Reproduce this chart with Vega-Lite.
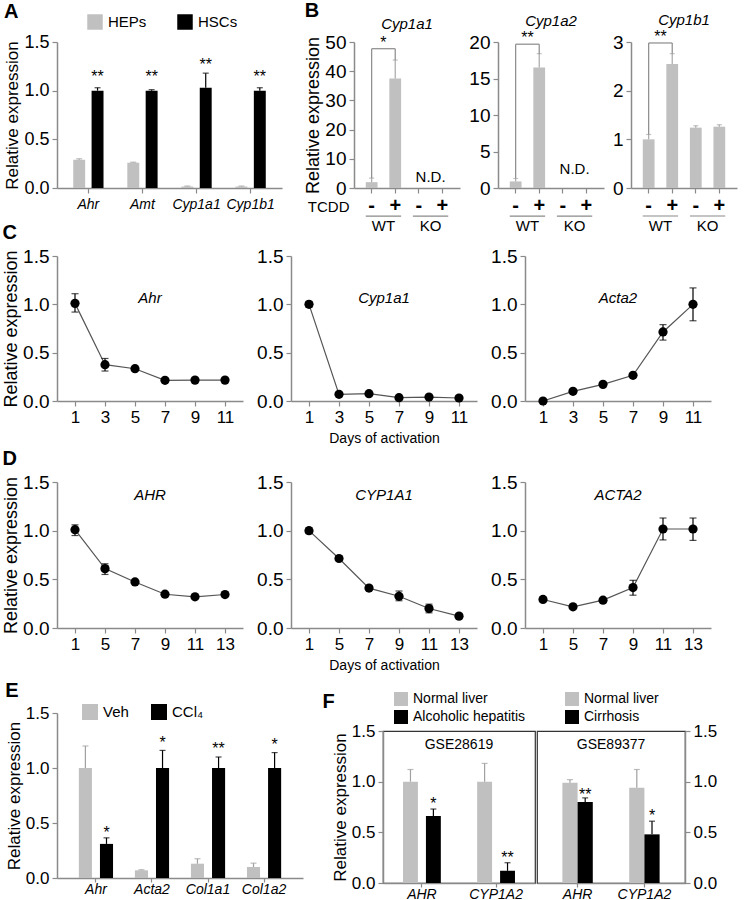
{
  "$schema": "https://vega.github.io/schema/vega-lite/v6.json",
  "padding": {"left": 2, "top": 0, "right": 2, "bottom": 0},
  "config": {
    "font": "Liberation Sans",
    "view": {"stroke": null},
    "axis": {"grid": false, "domainColor": "#8a8a8a", "tickColor": "#8a8a8a", "domainWidth": 1.5, "tickWidth": 1.2, "labelColor": "#000", "titleColor": "#000", "labelFont": "Liberation Sans", "titleFont": "Liberation Sans", "titleFontWeight": "normal", "tickSize": 5, "labelPadding": 3, "labelOverlap": false},
    "title": {"font": "Liberation Sans", "color": "#000"},
    "legend": {"labelFont": "Liberation Sans", "labelColor": "#000", "labelLimit": 300},
    "text": {"font": "Liberation Sans", "color": "#000"}
  },
  "datasets": {
    "a": [
      {"gene": "Ahr", "cell": "HEPs", "mean": 0.29, "hi": 0.3},
      {"gene": "Ahr", "cell": "HSCs", "mean": 1.0, "hi": 1.03, "sig": "**", "sigy": 1.18},
      {"gene": "Amt", "cell": "HEPs", "mean": 0.26, "hi": 0.265},
      {"gene": "Amt", "cell": "HSCs", "mean": 1.0, "hi": 1.01, "sig": "**", "sigy": 1.18},
      {"gene": "Cyp1a1", "cell": "HEPs", "mean": 0.015, "hi": 0.02},
      {"gene": "Cyp1a1", "cell": "HSCs", "mean": 1.03, "hi": 1.18, "sig": "**", "sigy": 1.3},
      {"gene": "Cyp1b1", "cell": "HEPs", "mean": 0.015, "hi": 0.02},
      {"gene": "Cyp1b1", "cell": "HSCs", "mean": 1.0, "hi": 1.03, "sig": "**", "sigy": 1.18}
    ],
    "b": [
      {"gene": "Cyp1a1", "cond": "WT-", "mean": 2.0, "hi": 3.4},
      {"gene": "Cyp1a1", "cond": "WT+", "mean": 37.5, "hi": 43.8},
      {"gene": "Cyp1a2", "cond": "WT-", "mean": 0.9, "hi": 1.3},
      {"gene": "Cyp1a2", "cond": "WT+", "mean": 16.5, "hi": 18.4},
      {"gene": "Cyp1b1", "cond": "WT-", "mean": 1.0, "hi": 1.1},
      {"gene": "Cyp1b1", "cond": "WT+", "mean": 2.55, "hi": 2.76},
      {"gene": "Cyp1b1", "cond": "KO-", "mean": 1.24, "hi": 1.28},
      {"gene": "Cyp1b1", "cond": "KO+", "mean": 1.26, "hi": 1.3}
    ],
    "bsig": [
      {"gene": "Cyp1a1", "left": "WT-", "right": "WT+", "lo_l": 3.4, "lo_r": 43.8, "top": 47.7, "label": "*"},
      {"gene": "Cyp1a2", "left": "WT-", "right": "WT+", "lo_l": 1.3, "lo_r": 18.4, "top": 19.7, "label": "**"},
      {"gene": "Cyp1b1", "left": "WT-", "right": "WT+", "lo_l": 1.1, "lo_r": 2.76, "top": 2.98, "label": "**"}
    ],
    "bnd": [
      {"gene": "Cyp1a1", "pos": "KO-", "y": 3.8, "t": "N.D."},
      {"gene": "Cyp1a2", "pos": "KO-", "y": 2.6, "t": "N.D."}
    ],
    "geno": [
      {"g": "WT", "from": "WT-", "to": "WT+"},
      {"g": "KO", "from": "KO-", "to": "KO+"}
    ],
    "c": [
      {"gene": "Ahr", "day": 1, "mean": 1.01, "lo": 0.92, "hi": 1.11},
      {"gene": "Ahr", "day": 3, "mean": 0.376, "lo": 0.31, "hi": 0.44},
      {"gene": "Ahr", "day": 5, "mean": 0.334, "lo": 0.32, "hi": 0.35},
      {"gene": "Ahr", "day": 7, "mean": 0.214, "lo": 0.2, "hi": 0.23},
      {"gene": "Ahr", "day": 9, "mean": 0.216, "lo": 0.2, "hi": 0.23},
      {"gene": "Ahr", "day": 11, "mean": 0.216, "lo": 0.21, "hi": 0.225},
      {"gene": "Cyp1a1", "day": 1, "mean": 1.0, "lo": 0.97, "hi": 1.03},
      {"gene": "Cyp1a1", "day": 3, "mean": 0.069, "lo": 0.069, "hi": 0.069},
      {"gene": "Cyp1a1", "day": 5, "mean": 0.076, "lo": 0.076, "hi": 0.076},
      {"gene": "Cyp1a1", "day": 7, "mean": 0.034, "lo": 0.034, "hi": 0.034},
      {"gene": "Cyp1a1", "day": 9, "mean": 0.041, "lo": 0.041, "hi": 0.041},
      {"gene": "Cyp1a1", "day": 11, "mean": 0.031, "lo": 0.031, "hi": 0.031},
      {"gene": "Acta2", "day": 1, "mean": 0.0, "lo": 0.0, "hi": 0.0},
      {"gene": "Acta2", "day": 3, "mean": 0.1, "lo": 0.1, "hi": 0.1},
      {"gene": "Acta2", "day": 5, "mean": 0.172, "lo": 0.172, "hi": 0.172},
      {"gene": "Acta2", "day": 7, "mean": 0.266, "lo": 0.266, "hi": 0.266},
      {"gene": "Acta2", "day": 9, "mean": 0.714, "lo": 0.63, "hi": 0.79},
      {"gene": "Acta2", "day": 11, "mean": 1.0, "lo": 0.83, "hi": 1.17}
    ],
    "d": [
      {"gene": "AHR", "day": 1, "mean": 1.01, "lo": 0.95, "hi": 1.06},
      {"gene": "AHR", "day": 5, "mean": 0.61, "lo": 0.55, "hi": 0.66},
      {"gene": "AHR", "day": 7, "mean": 0.473, "lo": 0.473, "hi": 0.473},
      {"gene": "AHR", "day": 9, "mean": 0.347, "lo": 0.347, "hi": 0.347},
      {"gene": "AHR", "day": 11, "mean": 0.32, "lo": 0.32, "hi": 0.32},
      {"gene": "AHR", "day": 13, "mean": 0.344, "lo": 0.344, "hi": 0.344},
      {"gene": "CYP1A1", "day": 1, "mean": 1.0, "lo": 0.97, "hi": 1.03},
      {"gene": "CYP1A1", "day": 5, "mean": 0.714, "lo": 0.7, "hi": 0.73},
      {"gene": "CYP1A1", "day": 7, "mean": 0.41, "lo": 0.39, "hi": 0.43},
      {"gene": "CYP1A1", "day": 9, "mean": 0.326, "lo": 0.28, "hi": 0.38},
      {"gene": "CYP1A1", "day": 11, "mean": 0.2, "lo": 0.156, "hi": 0.245},
      {"gene": "CYP1A1", "day": 13, "mean": 0.122, "lo": 0.122, "hi": 0.122},
      {"gene": "ACTA2", "day": 1, "mean": 0.293, "lo": 0.293, "hi": 0.293},
      {"gene": "ACTA2", "day": 5, "mean": 0.218, "lo": 0.218, "hi": 0.218},
      {"gene": "ACTA2", "day": 7, "mean": 0.286, "lo": 0.286, "hi": 0.286},
      {"gene": "ACTA2", "day": 9, "mean": 0.415, "lo": 0.337, "hi": 0.49},
      {"gene": "ACTA2", "day": 11, "mean": 1.017, "lo": 0.905, "hi": 1.13},
      {"gene": "ACTA2", "day": 13, "mean": 1.017, "lo": 0.9, "hi": 1.13}
    ],
    "e": [
      {"gene": "Ahr", "trt": "Veh", "mean": 1.0, "hi": 1.2},
      {"gene": "Ahr", "trt": "CCl₄", "mean": 0.31, "hi": 0.365, "sig": "*", "sigy": 0.45},
      {"gene": "Acta2", "trt": "Veh", "mean": 0.07, "hi": 0.075},
      {"gene": "Acta2", "trt": "CCl₄", "mean": 1.0, "hi": 1.16, "sig": "*", "sigy": 1.26},
      {"gene": "Col1a1", "trt": "Veh", "mean": 0.13, "hi": 0.175},
      {"gene": "Col1a1", "trt": "CCl₄", "mean": 1.0, "hi": 1.1, "sig": "**", "sigy": 1.21},
      {"gene": "Col1a2", "trt": "Veh", "mean": 0.1, "hi": 0.135},
      {"gene": "Col1a2", "trt": "CCl₄", "mean": 1.0, "hi": 1.14, "sig": "*", "sigy": 1.25}
    ],
    "f": [
      {"ds": "GSE28619", "gene": "AHR", "st": "Normal liver", "mean": 1.0, "hi": 1.12},
      {"ds": "GSE28619", "gene": "AHR", "st": "Alcoholic hepatitis", "mean": 0.66, "hi": 0.73, "sig": "*", "sigy": 0.82},
      {"ds": "GSE28619", "gene": "CYP1A2", "st": "Normal liver", "mean": 1.0, "hi": 1.18},
      {"ds": "GSE28619", "gene": "CYP1A2", "st": "Alcoholic hepatitis", "mean": 0.12, "hi": 0.2, "sig": "**", "sigy": 0.29},
      {"ds": "GSE89377", "gene": "AHR", "st": "Normal liver", "mean": 0.99, "hi": 1.02},
      {"ds": "GSE89377", "gene": "AHR", "st": "Cirrhosis", "mean": 0.8, "hi": 0.84, "sig": "**", "sigy": 0.91},
      {"ds": "GSE89377", "gene": "CYP1A2", "st": "Normal liver", "mean": 0.94, "hi": 1.12},
      {"ds": "GSE89377", "gene": "CYP1A2", "st": "Cirrhosis", "mean": 0.48, "hi": 0.61, "sig": "*", "sigy": 0.7}
    ]
  },
  "resolve": {"scale": {"color": "independent", "fill": "independent", "stroke": "independent", "xOffset": "independent"}, "legend": {"color": "independent"}},
  "spacing": -11,
  "vconcat": [
    {
      "resolve": {"scale": {"color": "independent", "fill": "independent", "stroke": "independent", "xOffset": "independent"}, "legend": {"color": "independent"}},
      "spacing": 22,
      "hconcat": [
        {
          "title": {"text": "A", "fontSize": 20, "fontWeight": "bold", "anchor": "start", "offset": -8},
          "hconcat": [
            {
              "width": 225, "height": 146,
              "data": {"name": "a"},
              "encoding": {
                "x": {"field": "gene", "type": "nominal", "title": null, "sort": ["Ahr", "Amt", "Cyp1a1", "Cyp1b1"], "scale": {"paddingInner": 0.44, "paddingOuter": 0.3}, "axis": {"labelAngle": 0, "labelFontStyle": "italic", "labelFontSize": 14, "labelPadding": 4}},
                "xOffset": {"field": "cell", "type": "nominal", "sort": ["HEPs", "HSCs"], "scale": {"paddingInner": 0.35}}
              },
              "layer": [
                {"mark": {"type": "bar"}, "encoding": {
                  "y": {"field": "mean", "type": "quantitative", "title": "Relative expression", "scale": {"domain": [0, 1.5], "nice": false}, "axis": {"values": [0, 0.5, 1, 1.5], "tickCount": 10, "format": ".1f", "labelFontSize": 18, "titleFontSize": 17, "titlePadding": 2}},
                  "color": {"field": "cell", "type": "nominal", "scale": {"domain": ["HEPs", "HSCs"], "range": ["#c0c0c0", "#000000"]}, "legend": {"title": null, "orient": "none", "legendX": 30, "legendY": -28, "direction": "horizontal", "symbolType": "square", "symbolSize": 240, "symbolStrokeWidth": 0, "labelFontSize": 15, "columnPadding": 30, "labelOffset": 5}}
                }},
                {"mark": {"type": "rule", "strokeWidth": 1.2}, "encoding": {
                  "y": {"field": "mean", "type": "quantitative", "title": "Relative expression"}, "y2": {"field": "hi"},
                  "stroke": {"field": "cell", "type": "nominal", "scale": {"domain": ["HEPs", "HSCs"], "range": ["#a0a0a0", "#000000"]}, "legend": null}
                }},
                {"mark": {"type": "tick", "size": 6, "thickness": 1.2}, "encoding": {
                  "y": {"field": "hi", "type": "quantitative", "title": "Relative expression"},
                  "fill": {"field": "cell", "type": "nominal", "scale": {"domain": ["HEPs", "HSCs"], "range": ["#a0a0a0", "#000000"]}, "legend": null}
                }},
                {"transform": [{"filter": "isValid(datum.sig)"}], "mark": {"type": "text", "fontSize": 16, "baseline": "middle", "dy": 4}, "encoding": {
                  "y": {"field": "sigy", "type": "quantitative", "title": "Relative expression"}, "text": {"field": "sig"}
                }}
              ]
            }
          ]
        },
        {
          "title": {"text": "B", "fontSize": 20, "fontWeight": "bold", "anchor": "start", "offset": -8},
          "spacing": 8,
          "hconcat": [
            {
              "width": 106, "height": 146,
              "title": {"text": "Cyp1a1", "fontStyle": "italic", "fontWeight": "normal", "fontSize": 15, "anchor": "middle", "offset": 1},
              "layer": [
                {"data": {"name": "b"}, "transform": [{"filter": "datum.gene=='Cyp1a1'"}], "mark": {"type": "bar", "color": "#c0c0c0"}, "encoding": {
                  "x": {"field": "cond", "type": "nominal", "title": "TCDD", "scale": {"domain": ["WT-", "WT+", "KO-", "KO+"], "paddingInner": 0.5, "paddingOuter": 0.5}, "axis": {"labelExpr": "indexof(datum.value,'+')>=0?'+':'-'", "labelAngle": 0, "labelFontSize": 20, "labelFontWeight": "bold", "labelPadding": 2, "titleX": -5, "titleY": 23, "titleAlign": "right", "titleBaseline": "alphabetic", "titleFontSize": 15, "titleAngle": 0}},
                  "y": {"field": "mean", "type": "quantitative", "title": "Relative expression", "scale": {"domain": [0, 50], "nice": false}, "axis": {"values": [0, 10, 20, 30, 40, 50], "tickCount": 10, "format": "d", "labelFontSize": 19, "titleFontSize": 18, "titlePadding": 2}}
                }},
                {"data": {"name": "b"}, "transform": [{"filter": "datum.gene=='Cyp1a1'"}], "mark": {"type": "rule", "color": "#a8a8a8", "strokeWidth": 1.2}, "encoding": {
                  "x": {"field": "cond", "type": "nominal", "title": "TCDD"}, "y": {"field": "mean", "type": "quantitative", "title": "Relative expression"}, "y2": {"field": "hi"}}},
                {"data": {"name": "b"}, "transform": [{"filter": "datum.gene=='Cyp1a1'"}], "mark": {"type": "tick", "color": "#a8a8a8", "size": 5, "thickness": 1.2}, "encoding": {
                  "x": {"field": "cond", "type": "nominal", "title": "TCDD"}, "y": {"field": "hi", "type": "quantitative", "title": "Relative expression"}}},
                {"data": {"name": "bsig"}, "transform": [{"filter": "datum.gene=='Cyp1a1'"}], "mark": {"type": "rule", "color": "#8a8a8a", "strokeWidth": 1.2}, "encoding": {
                  "x": {"field": "left", "type": "nominal", "title": "TCDD"}, "y": {"field": "lo_l", "type": "quantitative", "title": "Relative expression"}, "y2": {"field": "top"}}},
                {"data": {"name": "bsig"}, "transform": [{"filter": "datum.gene=='Cyp1a1'"}], "mark": {"type": "rule", "color": "#8a8a8a", "strokeWidth": 1.2}, "encoding": {
                  "x": {"field": "right", "type": "nominal", "title": "TCDD"}, "y": {"field": "lo_r", "type": "quantitative", "title": "Relative expression"}, "y2": {"field": "top"}}},
                {"data": {"name": "bsig"}, "transform": [{"filter": "datum.gene=='Cyp1a1'"}], "mark": {"type": "rule", "color": "#8a8a8a", "strokeWidth": 1.2}, "encoding": {
                  "x": {"field": "left", "type": "nominal", "title": "TCDD", "bandPosition": 0.5}, "x2": {"field": "right", "bandPosition": 0.5}, "y": {"field": "top", "type": "quantitative", "title": "Relative expression"}}},
                {"data": {"name": "bsig"}, "transform": [{"filter": "datum.gene=='Cyp1a1'"}], "mark": {"type": "text", "fontSize": 16, "baseline": "middle", "dy": -6}, "encoding": {
                  "x": {"field": "left", "type": "nominal", "title": "TCDD", "bandPosition": 1.5}, "y": {"field": "top", "type": "quantitative", "title": "Relative expression"}, "text": {"field": "label"}}},
                {"data": {"name": "bnd"}, "transform": [{"filter": "datum.gene=='Cyp1a1'"}], "mark": {"type": "text", "fontSize": 15, "baseline": "middle"}, "encoding": {
                  "x": {"field": "pos", "type": "nominal", "title": "TCDD", "bandPosition": 1.5}, "y": {"field": "y", "type": "quantitative", "title": "Relative expression"}, "text": {"field": "t"}}},
                {"data": {"name": "geno"}, "mark": {"type": "rule", "color": "#8a8a8a", "strokeWidth": 1.2}, "encoding": {
                  "x": {"field": "from", "type": "nominal", "title": "TCDD", "bandPosition": 0}, "x2": {"field": "to", "bandPosition": 1}, "y": {"datum": -9.6, "title": "Relative expression"}}},
                {"data": {"name": "geno"}, "mark": {"type": "text", "fontSize": 15, "baseline": "middle"}, "encoding": {
                  "x": {"field": "from", "type": "nominal", "title": "TCDD", "bandPosition": 1.5}, "y": {"datum": -13, "title": "Relative expression"}, "text": {"field": "g"}}}
              ]
            },
            {
              "width": 106, "height": 146,
              "title": {"text": "Cyp1a2", "fontStyle": "italic", "fontWeight": "normal", "fontSize": 15, "anchor": "middle", "offset": 1},
              "layer": [
                {"data": {"name": "b"}, "transform": [{"filter": "datum.gene=='Cyp1a2'"}], "mark": {"type": "bar", "color": "#c0c0c0"}, "encoding": {
                  "x": {"field": "cond", "type": "nominal", "title": null, "scale": {"domain": ["WT-", "WT+", "KO-", "KO+"], "paddingInner": 0.5, "paddingOuter": 0.5}, "axis": {"labelExpr": "indexof(datum.value,'+')>=0?'+':'-'", "labelAngle": 0, "labelFontSize": 20, "labelFontWeight": "bold", "labelPadding": 2}},
                  "y": {"field": "mean", "type": "quantitative", "title": null, "scale": {"domain": [0, 20], "nice": false}, "axis": {"values": [0, 5, 10, 15, 20], "tickCount": 10, "format": "d", "labelFontSize": 19}}
                }},
                {"data": {"name": "b"}, "transform": [{"filter": "datum.gene=='Cyp1a2'"}], "mark": {"type": "rule", "color": "#a8a8a8", "strokeWidth": 1.2}, "encoding": {
                  "x": {"field": "cond", "type": "nominal", "title": null}, "y": {"field": "mean", "type": "quantitative", "title": null}, "y2": {"field": "hi"}}},
                {"data": {"name": "b"}, "transform": [{"filter": "datum.gene=='Cyp1a2'"}], "mark": {"type": "tick", "color": "#a8a8a8", "size": 5, "thickness": 1.2}, "encoding": {
                  "x": {"field": "cond", "type": "nominal", "title": null}, "y": {"field": "hi", "type": "quantitative", "title": null}}},
                {"data": {"name": "bsig"}, "transform": [{"filter": "datum.gene=='Cyp1a2'"}], "mark": {"type": "rule", "color": "#8a8a8a", "strokeWidth": 1.2}, "encoding": {
                  "x": {"field": "left", "type": "nominal", "title": null}, "y": {"field": "lo_l", "type": "quantitative", "title": null}, "y2": {"field": "top"}}},
                {"data": {"name": "bsig"}, "transform": [{"filter": "datum.gene=='Cyp1a2'"}], "mark": {"type": "rule", "color": "#8a8a8a", "strokeWidth": 1.2}, "encoding": {
                  "x": {"field": "right", "type": "nominal", "title": null}, "y": {"field": "lo_r", "type": "quantitative", "title": null}, "y2": {"field": "top"}}},
                {"data": {"name": "bsig"}, "transform": [{"filter": "datum.gene=='Cyp1a2'"}], "mark": {"type": "rule", "color": "#8a8a8a", "strokeWidth": 1.2}, "encoding": {
                  "x": {"field": "left", "type": "nominal", "title": null, "bandPosition": 0.5}, "x2": {"field": "right", "bandPosition": 0.5}, "y": {"field": "top", "type": "quantitative", "title": null}}},
                {"data": {"name": "bsig"}, "transform": [{"filter": "datum.gene=='Cyp1a2'"}], "mark": {"type": "text", "fontSize": 16, "baseline": "middle", "dy": -6}, "encoding": {
                  "x": {"field": "left", "type": "nominal", "title": null, "bandPosition": 1.5}, "y": {"field": "top", "type": "quantitative", "title": null}, "text": {"field": "label"}}},
                {"data": {"name": "bnd"}, "transform": [{"filter": "datum.gene=='Cyp1a2'"}], "mark": {"type": "text", "fontSize": 15, "baseline": "middle"}, "encoding": {
                  "x": {"field": "pos", "type": "nominal", "title": null, "bandPosition": 1.5}, "y": {"field": "y", "type": "quantitative", "title": null}, "text": {"field": "t"}}},
                {"data": {"name": "geno"}, "mark": {"type": "rule", "color": "#8a8a8a", "strokeWidth": 1.2}, "encoding": {
                  "x": {"field": "from", "type": "nominal", "title": null, "bandPosition": 0}, "x2": {"field": "to", "bandPosition": 1}, "y": {"datum": -3.84, "title": null}}},
                {"data": {"name": "geno"}, "mark": {"type": "text", "fontSize": 15, "baseline": "middle"}, "encoding": {
                  "x": {"field": "from", "type": "nominal", "title": null, "bandPosition": 1.5}, "y": {"datum": -5.2, "title": null}, "text": {"field": "g"}}}
              ]
            },
            {
              "width": 106, "height": 146,
              "title": {"text": "Cyp1b1", "fontStyle": "italic", "fontWeight": "normal", "fontSize": 15, "anchor": "middle", "offset": 1},
              "layer": [
                {"data": {"name": "b"}, "transform": [{"filter": "datum.gene=='Cyp1b1'"}], "mark": {"type": "bar", "color": "#c0c0c0"}, "encoding": {
                  "x": {"field": "cond", "type": "nominal", "title": null, "scale": {"domain": ["WT-", "WT+", "KO-", "KO+"], "paddingInner": 0.5, "paddingOuter": 0.5}, "axis": {"labelExpr": "indexof(datum.value,'+')>=0?'+':'-'", "labelAngle": 0, "labelFontSize": 20, "labelFontWeight": "bold", "labelPadding": 2}},
                  "y": {"field": "mean", "type": "quantitative", "title": null, "scale": {"domain": [0, 3], "nice": false}, "axis": {"values": [0, 1, 2, 3], "tickCount": 10, "format": "d", "labelFontSize": 19}}
                }},
                {"data": {"name": "b"}, "transform": [{"filter": "datum.gene=='Cyp1b1'"}], "mark": {"type": "rule", "color": "#a8a8a8", "strokeWidth": 1.2}, "encoding": {
                  "x": {"field": "cond", "type": "nominal", "title": null}, "y": {"field": "mean", "type": "quantitative", "title": null}, "y2": {"field": "hi"}}},
                {"data": {"name": "b"}, "transform": [{"filter": "datum.gene=='Cyp1b1'"}], "mark": {"type": "tick", "color": "#a8a8a8", "size": 5, "thickness": 1.2}, "encoding": {
                  "x": {"field": "cond", "type": "nominal", "title": null}, "y": {"field": "hi", "type": "quantitative", "title": null}}},
                {"data": {"name": "bsig"}, "transform": [{"filter": "datum.gene=='Cyp1b1'"}], "mark": {"type": "rule", "color": "#8a8a8a", "strokeWidth": 1.2}, "encoding": {
                  "x": {"field": "left", "type": "nominal", "title": null}, "y": {"field": "lo_l", "type": "quantitative", "title": null}, "y2": {"field": "top"}}},
                {"data": {"name": "bsig"}, "transform": [{"filter": "datum.gene=='Cyp1b1'"}], "mark": {"type": "rule", "color": "#8a8a8a", "strokeWidth": 1.2}, "encoding": {
                  "x": {"field": "right", "type": "nominal", "title": null}, "y": {"field": "lo_r", "type": "quantitative", "title": null}, "y2": {"field": "top"}}},
                {"data": {"name": "bsig"}, "transform": [{"filter": "datum.gene=='Cyp1b1'"}], "mark": {"type": "rule", "color": "#8a8a8a", "strokeWidth": 1.2}, "encoding": {
                  "x": {"field": "left", "type": "nominal", "title": null, "bandPosition": 0.5}, "x2": {"field": "right", "bandPosition": 0.5}, "y": {"field": "top", "type": "quantitative", "title": null}}},
                {"data": {"name": "bsig"}, "transform": [{"filter": "datum.gene=='Cyp1b1'"}], "mark": {"type": "text", "fontSize": 16, "baseline": "middle", "dy": -6}, "encoding": {
                  "x": {"field": "left", "type": "nominal", "title": null, "bandPosition": 1.5}, "y": {"field": "top", "type": "quantitative", "title": null}, "text": {"field": "label"}}},
                {"data": {"name": "geno"}, "mark": {"type": "rule", "color": "#8a8a8a", "strokeWidth": 1.2}, "encoding": {
                  "x": {"field": "from", "type": "nominal", "title": null, "bandPosition": 0}, "x2": {"field": "to", "bandPosition": 1}, "y": {"datum": -0.575, "title": null}}},
                {"data": {"name": "geno"}, "mark": {"type": "text", "fontSize": 15, "baseline": "middle"}, "encoding": {
                  "x": {"field": "from", "type": "nominal", "title": null, "bandPosition": 1.5}, "y": {"datum": -0.78, "title": null}, "text": {"field": "g"}}}
              ]
            }
          ]
        }
      ]
    },
    {
      "resolve": {"scale": {"color": "independent", "fill": "independent", "stroke": "independent", "xOffset": "independent"}, "legend": {"color": "independent"}},
      "spacing": 9,
      "vconcat": [
        {
          "spacing": 4,
          "vconcat": [
            {
              "title": {"text": "C", "fontSize": 20, "fontWeight": "bold", "anchor": "start", "offset": 4},
              "spacing": 13,
              "hconcat": [
                {
                  "width": 186, "height": 145,
                  "title": {"text": "Ahr", "fontStyle": "italic", "fontWeight": "normal", "fontSize": 15, "anchor": "middle", "offset": -59},
                  "data": {"name": "c"}, "transform": [{"filter": "datum.gene=='Ahr'"}],
                  "encoding": {"x": {"field": "day", "type": "ordinal", "title": null, "scale": {"type": "point", "padding": 0.6}, "axis": {"labelAngle": 0, "labelFontSize": 17}}},
                  "layer": [
                    {"mark": {"type": "line", "color": "#555", "strokeWidth": 1.2}, "encoding": {"y": {"field": "mean", "type": "quantitative", "title": "Relative expression", "scale": {"domain": [0, 1.5], "nice": false}, "axis": {"values": [0, 0.5, 1, 1.5], "tickCount": 10, "format": ".1f", "labelFontSize": 19, "titleFontSize": 18, "titlePadding": 2}}}},
                    {"mark": {"type": "rule", "color": "#000", "strokeWidth": 1.2}, "encoding": {"y": {"field": "lo", "type": "quantitative", "title": "Relative expression"}, "y2": {"field": "hi"}}},
                    {"mark": {"type": "tick", "color": "#000", "size": 7, "thickness": 1.2}, "encoding": {"y": {"field": "hi", "type": "quantitative", "title": "Relative expression"}}},
                    {"mark": {"type": "tick", "color": "#000", "size": 7, "thickness": 1.2}, "encoding": {"y": {"field": "lo", "type": "quantitative", "title": "Relative expression"}}},
                    {"mark": {"type": "point", "filled": true, "color": "#000", "size": 85, "opacity": 1}, "encoding": {"y": {"field": "mean", "type": "quantitative", "title": "Relative expression"}}}
                  ]
                },
                {
                  "width": 186, "height": 145,
                  "title": {"text": "Cyp1a1", "fontStyle": "italic", "fontWeight": "normal", "fontSize": 15, "anchor": "middle", "offset": -59},
                  "data": {"name": "c"}, "transform": [{"filter": "datum.gene=='Cyp1a1'"}],
                  "encoding": {"x": {"field": "day", "type": "ordinal", "title": "Days of activation", "scale": {"type": "point", "padding": 0.6}, "axis": {"labelAngle": 0, "labelFontSize": 17, "titleFontSize": 14, "titlePadding": 6}}},
                  "layer": [
                    {"mark": {"type": "line", "color": "#555", "strokeWidth": 1.2}, "encoding": {"y": {"field": "mean", "type": "quantitative", "title": null, "scale": {"domain": [0, 1.5], "nice": false}, "axis": {"values": [0, 0.5, 1, 1.5], "tickCount": 10, "format": ".1f", "labelFontSize": 19}}}},
                    {"mark": {"type": "rule", "color": "#000", "strokeWidth": 1.2}, "encoding": {"y": {"field": "lo", "type": "quantitative", "title": null}, "y2": {"field": "hi"}}},
                    {"mark": {"type": "tick", "color": "#000", "size": 7, "thickness": 1.2}, "encoding": {"y": {"field": "hi", "type": "quantitative", "title": null}}},
                    {"mark": {"type": "tick", "color": "#000", "size": 7, "thickness": 1.2}, "encoding": {"y": {"field": "lo", "type": "quantitative", "title": null}}},
                    {"mark": {"type": "point", "filled": true, "color": "#000", "size": 85, "opacity": 1}, "encoding": {"y": {"field": "mean", "type": "quantitative", "title": null}}}
                  ]
                },
                {
                  "width": 186, "height": 145,
                  "title": {"text": "Acta2", "fontStyle": "italic", "fontWeight": "normal", "fontSize": 15, "anchor": "middle", "offset": -59},
                  "data": {"name": "c"}, "transform": [{"filter": "datum.gene=='Acta2'"}],
                  "encoding": {"x": {"field": "day", "type": "ordinal", "title": null, "scale": {"type": "point", "padding": 0.6}, "axis": {"labelAngle": 0, "labelFontSize": 17}}},
                  "layer": [
                    {"mark": {"type": "line", "color": "#555", "strokeWidth": 1.2}, "encoding": {"y": {"field": "mean", "type": "quantitative", "title": null, "scale": {"domain": [0, 1.5], "nice": false}, "axis": {"values": [0, 0.5, 1, 1.5], "tickCount": 10, "format": ".1f", "labelFontSize": 19}}}},
                    {"mark": {"type": "rule", "color": "#000", "strokeWidth": 1.2}, "encoding": {"y": {"field": "lo", "type": "quantitative", "title": null}, "y2": {"field": "hi"}}},
                    {"mark": {"type": "tick", "color": "#000", "size": 7, "thickness": 1.2}, "encoding": {"y": {"field": "hi", "type": "quantitative", "title": null}}},
                    {"mark": {"type": "tick", "color": "#000", "size": 7, "thickness": 1.2}, "encoding": {"y": {"field": "lo", "type": "quantitative", "title": null}}},
                    {"mark": {"type": "point", "filled": true, "color": "#000", "size": 85, "opacity": 1}, "encoding": {"y": {"field": "mean", "type": "quantitative", "title": null}}}
                  ]
                }
              ]
            },
            {
              "title": {"text": "D", "fontSize": 20, "fontWeight": "bold", "anchor": "start", "offset": 4},
              "spacing": 13,
              "hconcat": [
                {
                  "width": 186, "height": 146,
                  "title": {"text": "AHR", "fontStyle": "italic", "fontWeight": "normal", "fontSize": 15, "anchor": "middle", "offset": -30},
                  "data": {"name": "d"}, "transform": [{"filter": "datum.gene=='AHR'"}],
                  "encoding": {"x": {"field": "day", "type": "ordinal", "title": null, "scale": {"type": "point", "padding": 0.6}, "axis": {"labelAngle": 0, "labelFontSize": 17}}},
                  "layer": [
                    {"mark": {"type": "line", "color": "#555", "strokeWidth": 1.2}, "encoding": {"y": {"field": "mean", "type": "quantitative", "title": "Relative expression", "scale": {"domain": [0, 1.5], "nice": false}, "axis": {"values": [0, 0.5, 1, 1.5], "tickCount": 10, "format": ".1f", "labelFontSize": 19, "titleFontSize": 18, "titlePadding": 2}}}},
                    {"mark": {"type": "rule", "color": "#000", "strokeWidth": 1.2}, "encoding": {"y": {"field": "lo", "type": "quantitative", "title": "Relative expression"}, "y2": {"field": "hi"}}},
                    {"mark": {"type": "tick", "color": "#000", "size": 7, "thickness": 1.2}, "encoding": {"y": {"field": "hi", "type": "quantitative", "title": "Relative expression"}}},
                    {"mark": {"type": "tick", "color": "#000", "size": 7, "thickness": 1.2}, "encoding": {"y": {"field": "lo", "type": "quantitative", "title": "Relative expression"}}},
                    {"mark": {"type": "point", "filled": true, "color": "#000", "size": 85, "opacity": 1}, "encoding": {"y": {"field": "mean", "type": "quantitative", "title": "Relative expression"}}}
                  ]
                },
                {
                  "width": 186, "height": 146,
                  "title": {"text": "CYP1A1", "fontStyle": "italic", "fontWeight": "normal", "fontSize": 15, "anchor": "middle", "offset": -30},
                  "data": {"name": "d"}, "transform": [{"filter": "datum.gene=='CYP1A1'"}],
                  "encoding": {"x": {"field": "day", "type": "ordinal", "title": "Days of activation", "scale": {"type": "point", "padding": 0.6}, "axis": {"labelAngle": 0, "labelFontSize": 17, "titleFontSize": 14, "titlePadding": 6}}},
                  "layer": [
                    {"mark": {"type": "line", "color": "#555", "strokeWidth": 1.2}, "encoding": {"y": {"field": "mean", "type": "quantitative", "title": null, "scale": {"domain": [0, 1.5], "nice": false}, "axis": {"values": [0, 0.5, 1, 1.5], "tickCount": 10, "format": ".1f", "labelFontSize": 19}}}},
                    {"mark": {"type": "rule", "color": "#000", "strokeWidth": 1.2}, "encoding": {"y": {"field": "lo", "type": "quantitative", "title": null}, "y2": {"field": "hi"}}},
                    {"mark": {"type": "tick", "color": "#000", "size": 7, "thickness": 1.2}, "encoding": {"y": {"field": "hi", "type": "quantitative", "title": null}}},
                    {"mark": {"type": "tick", "color": "#000", "size": 7, "thickness": 1.2}, "encoding": {"y": {"field": "lo", "type": "quantitative", "title": null}}},
                    {"mark": {"type": "point", "filled": true, "color": "#000", "size": 85, "opacity": 1}, "encoding": {"y": {"field": "mean", "type": "quantitative", "title": null}}}
                  ]
                },
                {
                  "width": 186, "height": 146,
                  "title": {"text": "ACTA2", "fontStyle": "italic", "fontWeight": "normal", "fontSize": 15, "anchor": "middle", "offset": -30},
                  "data": {"name": "d"}, "transform": [{"filter": "datum.gene=='ACTA2'"}],
                  "encoding": {"x": {"field": "day", "type": "ordinal", "title": null, "scale": {"type": "point", "padding": 0.6}, "axis": {"labelAngle": 0, "labelFontSize": 17}}},
                  "layer": [
                    {"mark": {"type": "line", "color": "#555", "strokeWidth": 1.2}, "encoding": {"y": {"field": "mean", "type": "quantitative", "title": null, "scale": {"domain": [0, 1.5], "nice": false}, "axis": {"values": [0, 0.5, 1, 1.5], "tickCount": 10, "format": ".1f", "labelFontSize": 19}}}},
                    {"mark": {"type": "rule", "color": "#000", "strokeWidth": 1.2}, "encoding": {"y": {"field": "lo", "type": "quantitative", "title": null}, "y2": {"field": "hi"}}},
                    {"mark": {"type": "tick", "color": "#000", "size": 7, "thickness": 1.2}, "encoding": {"y": {"field": "hi", "type": "quantitative", "title": null}}},
                    {"mark": {"type": "tick", "color": "#000", "size": 7, "thickness": 1.2}, "encoding": {"y": {"field": "lo", "type": "quantitative", "title": null}}},
                    {"mark": {"type": "point", "filled": true, "color": "#000", "size": 85, "opacity": 1}, "encoding": {"y": {"field": "mean", "type": "quantitative", "title": null}}}
                  ]
                }
              ]
            }
          ]
        },
        {
          "resolve": {"scale": {"color": "independent", "fill": "independent", "stroke": "independent", "xOffset": "independent"}, "legend": {"color": "independent"}},
          "spacing": 19,
          "hconcat": [
            {
              "hconcat": [
                {
                  "width": 246, "height": 165,
                  "title": {"text": "E", "fontSize": 20, "fontWeight": "bold", "anchor": "start", "frame": "bounds", "offset": 3},
                  "data": {"name": "e"},
                  "encoding": {
                    "x": {"field": "gene", "type": "nominal", "title": null, "sort": ["Ahr", "Acta2", "Col1a1", "Col1a2"], "scale": {"paddingInner": 0.39, "paddingOuter": 0.39}, "axis": {"labelAngle": 0, "labelFontStyle": "italic", "labelFontSize": 14, "labelPadding": 0, "tickSize": 4}},
                    "xOffset": {"field": "trt", "type": "nominal", "sort": ["Veh", "CCl₄"], "scale": {"paddingInner": 0.38}}
                  },
                  "layer": [
                    {"mark": {"type": "bar"}, "encoding": {
                      "y": {"field": "mean", "type": "quantitative", "title": "Relative expression", "scale": {"domain": [0, 1.5], "nice": false}, "axis": {"values": [0, 0.5, 1, 1.5], "tickCount": 10, "format": ".1f", "labelFontSize": 17, "titleFontSize": 17, "titlePadding": 2}},
                      "color": {"field": "trt", "type": "nominal", "scale": {"domain": ["Veh", "CCl₄"], "range": ["#c0c0c0", "#000000"]}, "legend": {"title": null, "orient": "none", "legendX": 25, "legendY": -9, "direction": "horizontal", "symbolType": "square", "symbolSize": 256, "symbolStrokeWidth": 0, "labelFontSize": 15, "columnPadding": 22, "labelOffset": 5}}
                    }},
                    {"mark": {"type": "rule", "strokeWidth": 1.2}, "encoding": {
                      "y": {"field": "mean", "type": "quantitative", "title": "Relative expression"}, "y2": {"field": "hi"},
                      "stroke": {"field": "trt", "type": "nominal", "scale": {"domain": ["Veh", "CCl₄"], "range": ["#a0a0a0", "#000000"]}, "legend": null}
                    }},
                    {"mark": {"type": "tick", "size": 6, "thickness": 1.2}, "encoding": {
                      "y": {"field": "hi", "type": "quantitative", "title": "Relative expression"},
                      "fill": {"field": "trt", "type": "nominal", "scale": {"domain": ["Veh", "CCl₄"], "range": ["#a0a0a0", "#000000"]}, "legend": null}
                    }},
                    {"transform": [{"filter": "isValid(datum.sig)"}], "mark": {"type": "text", "fontSize": 16, "baseline": "middle", "dy": 4}, "encoding": {
                      "y": {"field": "sigy", "type": "quantitative", "title": "Relative expression"}, "text": {"field": "sig"}
                    }}
                  ]
                }
              ]
            },
            {
              "resolve": {"scale": {"color": "independent", "fill": "independent", "stroke": "independent", "xOffset": "independent"}, "legend": {"color": "independent"}},
              "spacing": -23,
              "vconcat": [
                {
                  "width": 100, "height": 1,
                  "title": {"text": "F", "fontSize": 20, "fontWeight": "bold", "anchor": "start", "offset": 1, "dx": -60},
                  "data": {"name": "f"},
                  "mark": {"type": "rule", "opacity": 0},
                  "encoding": {}
                },
                {
                  "resolve": {"scale": {"color": "independent", "fill": "independent", "stroke": "independent", "xOffset": "independent"}, "legend": {"color": "independent"}},
                  "spacing": 0,
                  "hconcat": [
                    {
                      "width": 152, "height": 152,
                      "view": {"stroke": "#333", "strokeWidth": 1.2},
                      "data": {"name": "f"}, "transform": [{"filter": "datum.ds=='GSE28619'"}],
                      "encoding": {
                        "x": {"field": "gene", "type": "nominal", "title": null, "sort": ["AHR", "CYP1A2"], "scale": {"paddingInner": 0.49, "paddingOuter": 0.27}, "axis": {"labelAngle": 0, "labelFontStyle": "italic", "labelFontSize": 14, "labelPadding": 0, "tickSize": 4}}
                      },
                      "layer": [
                        {"mark": {"type": "bar"}, "encoding": {
                          "xOffset": {"field": "st", "type": "nominal", "sort": ["Normal liver", "Alcoholic hepatitis"], "scale": {"paddingInner": 0.35}},
                          "y": {"field": "mean", "type": "quantitative", "title": "Relative expression", "scale": {"domain": [0, 1.5], "nice": false}, "axis": {"values": [0, 0.5, 1, 1.5], "tickCount": 10, "format": ".1f", "labelFontSize": 17, "titleFontSize": 17, "titlePadding": 2}},
                          "color": {"field": "st", "type": "nominal", "scale": {"domain": ["Normal liver", "Alcoholic hepatitis"], "range": ["#c0c0c0", "#000000"]}, "legend": {"title": null, "orient": "none", "legendX": 11, "legendY": -39, "direction": "vertical", "symbolType": "square", "symbolSize": 196, "symbolStrokeWidth": 0, "labelFontSize": 14, "rowPadding": 4, "labelOffset": 5}}
                        }},
                        {"mark": {"type": "rule", "strokeWidth": 1.2}, "encoding": {
                          "xOffset": {"field": "st", "type": "nominal", "sort": ["Normal liver", "Alcoholic hepatitis"]},
                          "y": {"field": "mean", "type": "quantitative", "title": "Relative expression"}, "y2": {"field": "hi"},
                          "stroke": {"field": "st", "type": "nominal", "scale": {"domain": ["Normal liver", "Alcoholic hepatitis"], "range": ["#a0a0a0", "#000000"]}, "legend": null}
                        }},
                        {"mark": {"type": "tick", "size": 6, "thickness": 1.2}, "encoding": {
                          "xOffset": {"field": "st", "type": "nominal", "sort": ["Normal liver", "Alcoholic hepatitis"]},
                          "y": {"field": "hi", "type": "quantitative", "title": "Relative expression"},
                          "fill": {"field": "st", "type": "nominal", "scale": {"domain": ["Normal liver", "Alcoholic hepatitis"], "range": ["#a0a0a0", "#000000"]}, "legend": null}
                        }},
                        {"transform": [{"filter": "isValid(datum.sig)"}], "mark": {"type": "text", "fontSize": 16, "baseline": "middle", "dy": 4}, "encoding": {
                          "xOffset": {"field": "st", "type": "nominal", "sort": ["Normal liver", "Alcoholic hepatitis"]},
                          "y": {"field": "sigy", "type": "quantitative", "title": "Relative expression"}, "text": {"field": "sig"}
                        }},
                        {"transform": [{"filter": "datum.gene=='AHR' && datum.st=='Normal liver'"}], "mark": {"type": "text", "fontSize": 14, "baseline": "middle"}, "encoding": {
                          "x": {"field": "gene", "type": "nominal", "title": null, "bandPosition": 1.48}, "y": {"datum": 1.36, "title": "Relative expression"}, "text": {"field": "ds"}
                        }}
                      ]
                    },
                    {
                      "width": 148, "height": 152,
                      "view": {"stroke": "#333", "strokeWidth": 1.2},
                      "data": {"name": "f"}, "transform": [{"filter": "datum.ds=='GSE89377'"}],
                      "encoding": {
                        "x": {"field": "gene", "type": "nominal", "title": null, "sort": ["AHR", "CYP1A2"], "scale": {"paddingInner": 0.545, "paddingOuter": 0.38}, "axis": {"labelAngle": 0, "labelFontStyle": "italic", "labelFontSize": 14, "labelPadding": 0, "tickSize": 4}}
                      },
                      "layer": [
                        {"mark": {"type": "bar"}, "encoding": {
                          "xOffset": {"field": "st", "type": "nominal", "sort": ["Normal liver", "Cirrhosis"], "scale": {"paddingInner": 0}},
                          "y": {"field": "mean", "type": "quantitative", "title": null, "scale": {"domain": [0, 1.5], "nice": false}, "axis": {"orient": "right", "values": [0, 0.5, 1, 1.5], "tickCount": 10, "format": ".1f", "labelFontSize": 17}},
                          "color": {"field": "st", "type": "nominal", "scale": {"domain": ["Normal liver", "Cirrhosis"], "range": ["#c0c0c0", "#000000"]}, "legend": {"title": null, "orient": "none", "legendX": 28, "legendY": -39, "direction": "vertical", "symbolType": "square", "symbolSize": 196, "symbolStrokeWidth": 0, "labelFontSize": 14, "rowPadding": 4, "labelOffset": 5}}
                        }},
                        {"mark": {"type": "rule", "strokeWidth": 1.2}, "encoding": {
                          "xOffset": {"field": "st", "type": "nominal", "sort": ["Normal liver", "Cirrhosis"]},
                          "y": {"field": "mean", "type": "quantitative", "title": null}, "y2": {"field": "hi"},
                          "stroke": {"field": "st", "type": "nominal", "scale": {"domain": ["Normal liver", "Cirrhosis"], "range": ["#a0a0a0", "#000000"]}, "legend": null}
                        }},
                        {"mark": {"type": "tick", "size": 6, "thickness": 1.2}, "encoding": {
                          "xOffset": {"field": "st", "type": "nominal", "sort": ["Normal liver", "Cirrhosis"]},
                          "y": {"field": "hi", "type": "quantitative", "title": null},
                          "fill": {"field": "st", "type": "nominal", "scale": {"domain": ["Normal liver", "Cirrhosis"], "range": ["#a0a0a0", "#000000"]}, "legend": null}
                        }},
                        {"transform": [{"filter": "isValid(datum.sig)"}], "mark": {"type": "text", "fontSize": 16, "baseline": "middle", "dy": 4}, "encoding": {
                          "xOffset": {"field": "st", "type": "nominal", "sort": ["Normal liver", "Cirrhosis"]},
                          "y": {"field": "sigy", "type": "quantitative", "title": null}, "text": {"field": "sig"}
                        }},
                        {"transform": [{"filter": "datum.gene=='AHR' && datum.st=='Normal liver'"}], "mark": {"type": "text", "fontSize": 14, "baseline": "middle"}, "encoding": {
                          "x": {"field": "gene", "type": "nominal", "title": null, "bandPosition": 1.6}, "y": {"datum": 1.36, "title": null}, "text": {"field": "ds"}
                        }}
                      ]
                    }
                  ]
                }
              ]
            }
          ]
        }
      ]
    }
  ]
}
